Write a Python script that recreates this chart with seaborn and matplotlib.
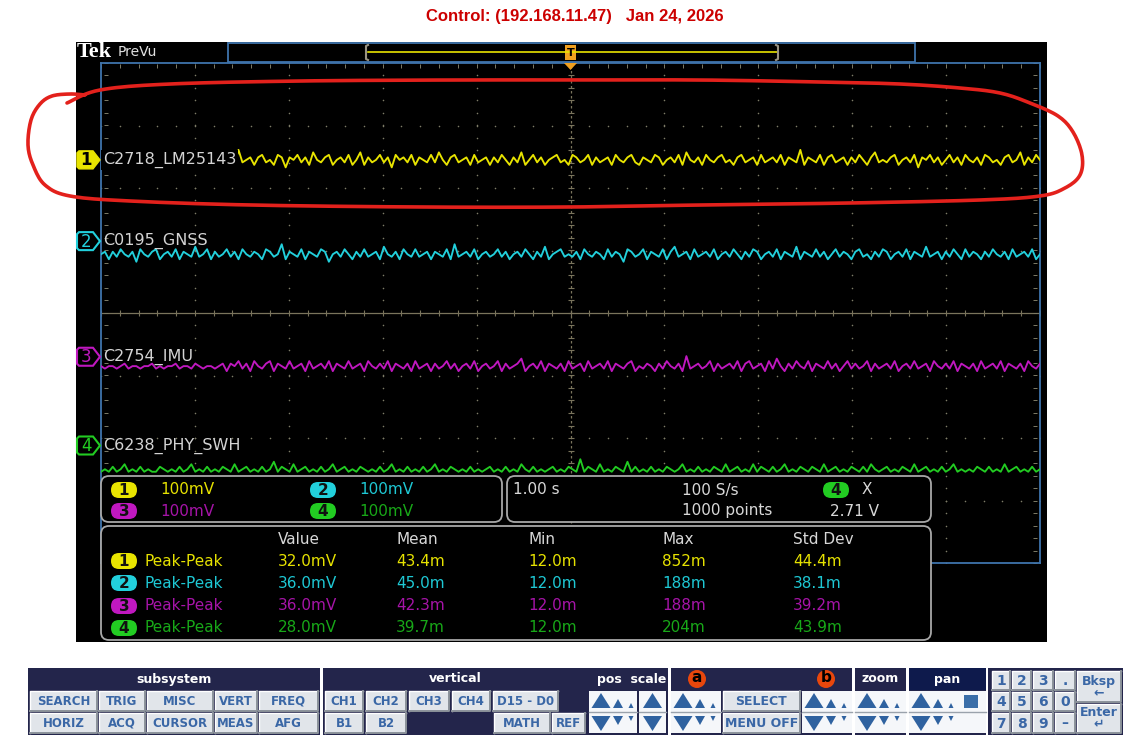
import numpy as np
import pandas as pd
import matplotlib
matplotlib.use('Agg')
import matplotlib.pyplot as plt
import seaborn as sns
from matplotlib.patches import Rectangle, FancyBboxPatch, Polygon, Circle

plt.rcParams['font.family'] = ['DejaVu Sans']

# ---- data ----
title = 'Control: (192.168.11.47)   Jan 24, 2026'
channel_names = ['C2718_LM25143', 'C0195_GNSS', 'C2754_IMU', 'C6238_PHY_SWH']
channel_colors = ['#e8e400', '#22d0dc', '#c018c0', '#22cc22']
text_colors = ['#e6e200', '#1ec8d4', '#a614a8', '#18a818']
channel_offset_div = [2.45, 0.94, -0.85, -2.54]   # trace position (divisions)
label_pos_div = [2.45, 1.15, -0.70, -2.12]
volts_per_div = ['100mV', '100mV', '100mV', '100mV']
lsb_mv = 4.0          # scope vertical step
mv_per_div = 100.0

# noise samples in LSB units (estimated by eye)
ch1_noise = [1,-1,2,0,-2,1,3,-1,0,2,-2,1,-1,2,0,-3,1,2,-1,0,
             2,-1,1,-2,0,3,-1,2,-2,1,0,-1,2,1,-2,4,-1,0,1,-2,
             1,2,-1,0,-2,2,1,-3,1,0,2,-1,1,-2,3,0,-1,1,2,-2,
             0,1,-1,2,-2,0,3,-2,1,-1,0,2,-1,1,-3,2,0,1,-1,2,
             -2,1,0,-1,2,-1,3,0,-2,1,2,-1,0,1,-2,2,-1,0,1,-2,
             1,-1,2,0,-2,1,-1,3,-2,0,2,-1,1,-2,0,1,2,-1,0,-2,
             2,1,-1,0,2,-2,1,-1,0,1,-2,2,0,-1,1,2,-1,-2,1,0,
             -1,2,1,-2,0,1,-1,2,-2,3,0,-1,1,-2,2,0,-1,1,2,-1,
             0,-2,1,2,-1,0,1,-2,2,-1,0,1,-1,2,-2,1,0,-1,4,-2,
             1,0,-1,2,-2,1,2,-1,0,1,-2,1,-1,2,0,-2,1,3,-1,0,
             -1,1,2,-2,0,1,-1,2,-3,1,0,2,-1,1,-2,0,2,-1,1,-2,
             2,0,-1,1,-2,2,1,-1,0,-2,1,2,-1,0,3,-2,1,-1,2,0]
ch2_noise = [0,1,-2,1,-1,2,0,-1,1,-3,2,0,-1,1,2,-2,0,1,-1,2,
             -2,1,0,-1,3,-1,0,2,-2,1,-1,0,2,-1,1,-2,2,0,-1,1,
             0,-2,2,1,-1,0,4,-2,1,0,-1,2,-2,1,0,-1,2,1,-3,0,
             1,-1,2,0,-2,1,-1,2,-1,0,1,-2,3,0,-1,1,-2,2,0,-1,
             2,-1,0,1,-2,1,0,-1,2,-2,4,-1,0,1,-1,2,-2,0,1,-1,
             0,2,-1,1,-2,0,1,-1,2,0,-2,1,-1,3,-2,0,1,2,-1,0,
             -1,1,-2,2,0,-1,1,0,-2,2,-1,1,0,-3,2,1,-1,0,2,-2,
             1,0,-1,2,-2,1,3,-1,0,1,-2,2,-1,0,1,-1,2,-2,0,1,
             -1,2,0,-2,1,-1,2,1,-2,0,1,-1,2,-2,1,0,-1,3,-2,1,
             0,-1,2,-1,1,-2,0,2,-1,1,0,-2,1,2,-1,0,-2,1,-1,2,
             1,-2,0,1,-1,2,-2,1,0,-1,3,-1,0,1,-2,1,-1,2,0,-2,
             2,-1,1,0,-2,1,-1,2,0,-1,1,-2,2,-1,0,1,-1,2,-2,0]
ch3_noise = [0,-1,0,0,-1,0,1,-1,0,0,-1,0,0,1,-1,0,-1,0,0,1,
             -1,0,0,-1,1,0,-1,0,0,-1,0,1,-2,1,0,2,-1,1,-2,2,
             0,-1,1,2,-2,1,0,-1,2,-1,0,1,-2,2,-1,0,1,-1,2,-2,
             1,0,-1,2,-1,0,1,-2,2,0,-1,1,-1,2,-2,1,0,-1,1,-2,
             2,-1,0,1,-2,1,-1,0,2,-1,1,-2,0,1,-1,2,-2,0,1,-1,
             0,2,-2,1,-1,0,1,3,-2,0,1,-1,2,-2,1,0,-1,1,-2,2,
             -1,0,1,-2,2,-1,0,1,-1,2,-2,1,0,-1,1,2,-2,0,-1,1,
             0,-2,1,-1,2,0,-1,1,-2,4,-1,0,1,-1,0,2,-2,1,-1,0,
             1,-1,2,-2,1,2,-1,0,1,-2,2,-1,3,0,-2,1,-1,2,0,-1,
             2,-2,1,0,-1,2,-1,1,-2,0,2,-1,1,-1,0,2,-2,1,-1,0,
             1,-1,2,-2,0,1,-1,2,-1,0,1,-2,2,0,-1,1,-1,2,-2,1,
             0,-1,1,-2,2,-1,0,1,-1,2,-2,1,0,-1,1,-2,2,0,-1,1]
ch4_noise = [0,1,0,2,0,1,3,0,1,0,2,0,1,0,0,2,1,0,1,0,
             2,0,1,3,0,1,0,2,0,1,0,2,1,0,3,0,1,2,0,1,
             0,2,0,1,4,0,2,1,0,3,0,1,2,0,1,0,2,0,1,3,
             0,1,2,0,1,0,2,1,0,1,0,2,0,1,3,0,1,0,2,0,
             1,0,2,0,1,3,0,1,0,2,1,0,1,0,2,0,1,0,1,2,
             0,1,0,2,0,1,0,3,1,0,2,0,1,0,1,2,0,1,0,2,
             1,0,5,0,2,1,0,3,0,1,0,2,1,0,4,0,2,0,1,0,
             2,0,1,0,2,1,0,1,3,0,1,0,2,0,1,0,2,1,0,3,
             0,1,2,0,1,0,3,0,2,1,0,2,0,1,3,0,1,0,2,1,
             0,2,1,0,3,0,1,2,0,1,0,2,1,0,2,0,3,1,0,1,
             2,0,1,0,2,1,0,3,0,1,2,0,1,0,2,0,1,3,0,1,
             0,1,0,2,1,0,2,0,1,0,3,0,1,2,0,1,0,2,0,1]
noises = [ch1_noise, ch2_noise, ch3_noise, ch4_noise]

time_base = '1.00 s'
sample_rate = '100 S/s'
record_len = '1000 points'
trig_level = '2.71 V'

meas_headers = ['Value', 'Mean', 'Min', 'Max', 'Std Dev']
meas_type = ['Peak-Peak', 'Peak-Peak', 'Peak-Peak', 'Peak-Peak']
value_col = ['32.0mV', '36.0mV', '36.0mV', '28.0mV']
mean_col = ['43.4m', '45.0m', '42.3m', '39.7m']
min_col = ['12.0m', '12.0m', '12.0m', '12.0m']
max_col = ['852m', '188m', '188m', '204m']
std_col = ['44.4m', '38.1m', '39.2m', '43.9m']

subsystem_row1 = ['SEARCH', 'TRIG', 'MISC', 'VERT', 'FREQ']
subsystem_row2 = ['HORIZ', 'ACQ', 'CURSOR', 'MEAS', 'AFG']
vertical_row1 = ['CH1', 'CH2', 'CH3', 'CH4', 'D15 - D0']
vertical_row2 = ['B1', 'B2', 'MATH', 'REF']
keypad_keys = [['1', '2', '3', '.'], ['4', '5', '6', '0'], ['7', '8', '9', '\u2013']]

# ---- figure ----
W, H = 1127, 743
fig = plt.figure(figsize=(W / 100, H / 100), dpi=100)
fig.patch.set_facecolor('white')

bg = fig.add_axes([0, 0, 1, 1])
bg.set_xlim(0, W)
bg.set_ylim(H, 0)
bg.axis('off')

# scope screen background
bg.add_patch(Rectangle((76, 42), 971, 600, fc='#000000', ec='none'))

# graticule axes: 10 x 8 divisions, 63..563 px tall, 101..1040 px wide
gx0, gx1, gy0, gy1 = 101, 1040, 63, 563
scope = fig.add_axes([gx0 / W, 1 - gy1 / H, (gx1 - gx0) / W, (gy1 - gy0) / H])
scope.set_xlim(0, 10)
scope.set_ylim(-4, 4)
scope.set_facecolor('#000000')
scope.set_xticks([])
scope.set_yticks([])
for s in scope.spines.values():
    s.set_color('#3f74ac')
    s.set_linewidth(1.3)

grid_c = '#7e7c68'
fine_x = np.arange(0, 10.001, 0.2)
fine_y = np.arange(-4, 4.001, 0.2)
for j in [-3, -2, -1, 1, 2, 3]:
    scope.scatter(fine_x, np.full_like(fine_x, j), s=1.3, color=grid_c, linewidths=0, zorder=1)
for k in [1, 2, 3, 4, 6, 7, 8, 9]:
    scope.scatter(np.full_like(fine_y, k), fine_y, s=1.3, color=grid_c, linewidths=0, zorder=1)
scope.axhline(0, color='#7a745c', lw=0.9, zorder=1)
scope.axvline(5, color='#7a745c', lw=0.9, ls=(0, (2, 2)), zorder=1)
scope.scatter(fine_x, np.zeros_like(fine_x), marker='|', s=14, color='#7a745c', linewidths=0.8, zorder=1)
scope.scatter(np.full_like(fine_y, 5), fine_y, marker='_', s=14, color='#7a745c', linewidths=0.8, zorder=1)
# border ticks
scope.scatter(fine_x, np.full_like(fine_x, 3.95), marker='|', s=6, color=grid_c, linewidths=0.7, zorder=1)
scope.scatter(np.full_like(fine_y, 0.05), fine_y, marker='_', s=6, color=grid_c, linewidths=0.7, zorder=1)
scope.scatter(np.full_like(fine_y, 9.95), fine_y, marker='_', s=6, color=grid_c, linewidths=0.7, zorder=1)

# traces
for i in range(4):
    vals = np.array(noises[i], dtype=float)
    t = np.linspace(0, 10, len(vals))
    df = pd.DataFrame({'t': t, 'v': channel_offset_div[i] + vals * lsb_mv / mv_per_div})
    sns.lineplot(data=df, x='t', y='v', ax=scope, color=channel_colors[i], lw=1.35,
                 estimator=None, sort=False, zorder=3)
scope.set_xlabel('')
scope.set_ylabel('')
scope.set_xlim(0, 10)
scope.set_ylim(-4, 4)

# trace labels
for i in range(4):
    kw = {}
    if i == 0:
        kw['bbox'] = dict(fc='black', ec='none', pad=1.5)
    scope.text(0.02, label_pos_div[i], channel_names[i], color='#d4d4d4', fontsize=11.5,
               va='center', ha='left', zorder=4, **kw)

# ---- overlay ----
fg = fig.add_axes([0, 0, 1, 1], zorder=5)
fg.set_xlim(0, W)
fg.set_ylim(H, 0)
fg.axis('off')
fg.patch.set_alpha(0)

fg.text(575, 17, title, color='#cc0000', fontsize=12, fontweight='bold',
        family=['Liberation Sans', 'DejaVu Sans'], ha='center', va='center')

# top bar
fg.text(77, 52, 'Tek', color='white', fontsize=16, fontweight='bold',
        family=['Liberation Serif', 'DejaVu Serif'], va='center', ha='left')
fg.text(118, 52, 'PreVu', color='#e0e0e0', fontsize=10, va='center', ha='left')
fg.add_patch(Rectangle((228, 43), 687, 19, fc='#000000', ec='#3f74ac', lw=1.3))
fg.plot([368, 777], [52, 52], color='#e8e400', lw=1.2)
fg.plot([368, 366, 366, 368], [45, 46, 59, 60], color='#9a9484', lw=1.5)
fg.plot([776, 778, 778, 776], [45, 46, 59, 60], color='#9a9484', lw=1.5)
fg.add_patch(Rectangle((565, 45), 11, 15, fc='#f0a020', ec='none'))
fg.text(570.5, 52.5, 'T', color='black', fontsize=8, fontweight='bold', ha='center', va='center')
fg.add_patch(Polygon([(564, 63), (577, 63), (570.5, 70)], closed=True, fc='#f0a020', ec='none'))

# channel markers on the left
def marker_y(i):
    return 313 - label_pos_div[i] * 62.5

for i in range(4):
    y = marker_y(i)
    pts = [(79, y - 9), (93, y - 9), (100, y), (93, y + 9), (79, y + 9), (77, y + 7), (77, y - 7)]
    if i == 0:
        fg.add_patch(Polygon(pts, closed=True, fc=channel_colors[0], ec=channel_colors[0], lw=1))
        fg.text(86, y + 0.5, '1', color='black', fontsize=12, fontweight='bold', ha='center', va='center')
    else:
        fg.add_patch(Polygon(pts, closed=True, fc='black', ec=channel_colors[i], lw=1.5))
        fg.text(86, y + 0.5, str(i + 1), color=channel_colors[i], fontsize=12, ha='center', va='center')

# readout boxes
def rbox(x0, y0, x1, y1):
    fg.add_patch(FancyBboxPatch((x0, y0), x1 - x0, y1 - y0,
                                boxstyle='round,pad=0,rounding_size=8',
                                fc='#000000', ec='#a8a8a8', lw=1.3))

def badge(x, y, i):
    fg.add_patch(FancyBboxPatch((x - 13, y - 8), 26, 16, boxstyle='round,pad=0,rounding_size=8',
                                fc=channel_colors[i], ec='none'))
    fg.text(x, y + 0.5, str(i + 1), color='#111111', fontsize=11, fontweight='bold', ha='center', va='center')

rbox(101, 476, 502, 522)
rbox(507, 476, 931, 522)
rbox(101, 526, 931, 640)

fs_r = 11
for i, (bx, by) in enumerate([(124, 490), (323, 490), (124, 511), (323, 511)]):
    badge(bx, by, i)
    fg.text(bx + 36, by, volts_per_div[i], color=text_colors[i], fontsize=fs_r, va='center')

fg.text(513, 490, time_base, color='#d8d8d8', fontsize=fs_r, va='center')
fg.text(682, 490, sample_rate, color='#d8d8d8', fontsize=fs_r, va='center')
fg.text(682, 511, record_len, color='#d8d8d8', fontsize=fs_r, va='center')
badge(836, 490, 3)
fg.text(862, 490, 'X', color='#d8d8d8', fontsize=fs_r, va='center')
fg.text(830, 511, trig_level, color='#d8d8d8', fontsize=fs_r, va='center')

col_x = [278, 396, 528, 662, 793]
for h, x in zip(meas_headers, col_x):
    fg.text(x, 539, h, color='#d8d8d8', fontsize=fs_r, va='center')
row_y = [561, 583, 606, 628]
for i in range(4):
    y = row_y[i]
    badge(124, y, i)
    fg.text(144, y, meas_type[i], color=text_colors[i], fontsize=fs_r, va='center')
    for x, col in zip(col_x, [value_col, mean_col, min_col, max_col, std_col]):
        fg.text(x, y, col[i], color=text_colors[i], fontsize=fs_r, va='center')

# red hand-drawn loop
loop = np.array([(67, 103), (100, 90), (170, 84), (300, 81), (450, 80), (570, 80), (700, 80),
                 (820, 82), (900, 84), (960, 88), (1000, 93), (1030, 103), (1058, 116),
                 (1073, 132), (1082, 155), (1080, 175), (1065, 188), (1040, 196), (980, 200),
                 (850, 203), (700, 205), (570, 207), (420, 207), (250, 205), (130, 201),
                 (70, 196), (45, 185), (33, 165), (28, 145), (31, 120), (40, 104), (52, 96),
                 (70, 94), (85, 95)], dtype=float)

def catmull(p, n=10):
    p = np.vstack([p[0], p, p[-1]])
    out = []
    for k in range(1, len(p) - 2):
        p0, p1, p2, p3 = p[k - 1], p[k], p[k + 1], p[k + 2]
        for u in np.linspace(0, 1, n, endpoint=False):
            out.append(0.5 * ((2 * p1) + (-p0 + p2) * u + (2 * p0 - 5 * p1 + 4 * p2 - p3) * u ** 2
                              + (-p0 + 3 * p1 - 3 * p2 + p3) * u ** 3))
    out.append(p[-2])
    return np.array(out)

curve = catmull(loop)
fg.plot(curve[:, 0], curve[:, 1], color='#e3211c', lw=2.6, solid_capstyle='round')

# ---- bottom control panel ----
navy = '#23254b'
btn_face = '#e1e5ea'
btn_text = '#3a67a6'
tri_c = '#2f62a0'
hy0, hy1 = 668, 690
r1 = (691, 711)
r2 = (713, 733)

def section(x0, x1, header=None, hx=None, fc=navy, head_fc=None):
    fg.add_patch(Rectangle((x0, hy0), x1 - x0, 735 - hy0, fc=fc, ec='none'))
    if head_fc:
        fg.add_patch(Rectangle((x0, hy0), x1 - x0, hy1 - hy0, fc=head_fc, ec='none'))
    if header:
        fg.text(hx if hx else (x0 + x1) / 2, (hy0 + hy1) / 2, header, color='white', fontsize=9,
                fontweight='bold', ha='center', va='center')

def button(x0, x1, y0, y1, label, fs=8.5):
    fg.add_patch(Rectangle((x0, y0), x1 - x0, y1 - y0, fc=btn_face, ec='none'))
    fg.plot([x0, x0, x1], [y1, y0, y0], color='white', lw=1)
    fg.plot([x0, x1, x1], [y1, y1, y0], color='#8b929a', lw=1.4)
    fg.text((x0 + x1) / 2, (y0 + y1) / 2 + 0.5, label, color=btn_text, fontsize=fs,
            fontweight='bold', ha='center', va='center', linespacing=0.9)

def tri(cx, w, h, up):
    if up:
        base = r1[1] - 3
        pts = [(cx - w / 2, base), (cx + w / 2, base), (cx, base - h)]
    else:
        base = r2[0] + 3
        pts = [(cx - w / 2, base), (cx + w / 2, base), (cx, base + h)]
    fg.add_patch(Polygon(pts, closed=True, fc=tri_c, ec='none'))

def arrow_box(x0, x1, full=True, square=False):
    fg.add_patch(Rectangle((x0, r1[0]), x1 - x0, r2[1] - r1[0], fc='#f5f7fa', ec='none'))
    fg.plot([x0, x1], [712, 712], color='#9aa2ac', lw=1)
    if full:
        sizes = [(x0 + 12, 19, 15), (x0 + 29, 10, 9), (x0 + 42, 5, 5)]
    else:
        sizes = [((x0 + x1) / 2, 19, 15)]
    for cx, w, h in sizes:
        tri(cx, w, h, True)
        tri(cx, w, h, False)
    if square:
        fg.add_patch(Rectangle((x1 - 22, 695), 14, 13, fc='#3a6ea8', ec='none'))

# subsystem
section(28, 320, 'subsystem')
sub_edges = [(30, 97), (99, 145), (147, 213), (215, 257), (259, 318)]
for (a, b), lab in zip(sub_edges, subsystem_row1):
    button(a, b, *r1, lab)
for (a, b), lab in zip(sub_edges, subsystem_row2):
    button(a, b, *r2, lab)

# vertical
section(323, 668, 'vertical', hx=455)
fg.text(666, 679, 'pos  scale', color='white', fontsize=9, fontweight='bold', ha='right', va='center')
vert_edges1 = [(325, 363), (366, 406), (409, 449), (452, 490), (493, 558)]
for (a, b), lab in zip(vert_edges1, vertical_row1):
    button(a, b, *r1, lab)
vert_edges2 = [(325, 363), (366, 406), (494, 550), (552, 585)]
for (a, b), lab in zip(vert_edges2, vertical_row2):
    button(a, b, *r2, lab)
arrow_box(589, 637)
arrow_box(639, 666, full=False)

# a / b
section(671, 852)
for cx, lab in [(697, 'a'), (826, 'b')]:
    fg.add_patch(Circle((cx, 679), 9, fc='#e8470c', ec='none'))
    fg.text(cx, 678, lab, color='black', fontsize=11, fontweight='bold', ha='center', va='center')
arrow_box(671, 721)
button(723, 800, *r1, 'SELECT', fs=9)
button(723, 800, *r2, 'MENU OFF', fs=9)
arrow_box(802, 852)

# zoom, pan
section(855, 906, 'zoom')
arrow_box(855, 906)
section(909, 986, 'pan', head_fc='#0e1a4c')
arrow_box(909, 986, square=True)

# keypad
section(988, 1123)
key_x = [(992, 1010), (1012, 1031), (1033, 1053), (1055, 1075)]
key_y = [(671, 690), (692, 711), (713, 733)]
for r, row in enumerate(keypad_keys):
    for (a, b), lab in zip(key_x, row):
        button(a, b, key_y[r][0], key_y[r][1], lab, fs=10)
button(1077, 1121, 671, 702, 'Bksp\n\u2190', fs=9)
button(1077, 1121, 704, 733, 'Enter\n\u21b5', fs=9)

fig.savefig('out.png', dpi=100, facecolor='white')
